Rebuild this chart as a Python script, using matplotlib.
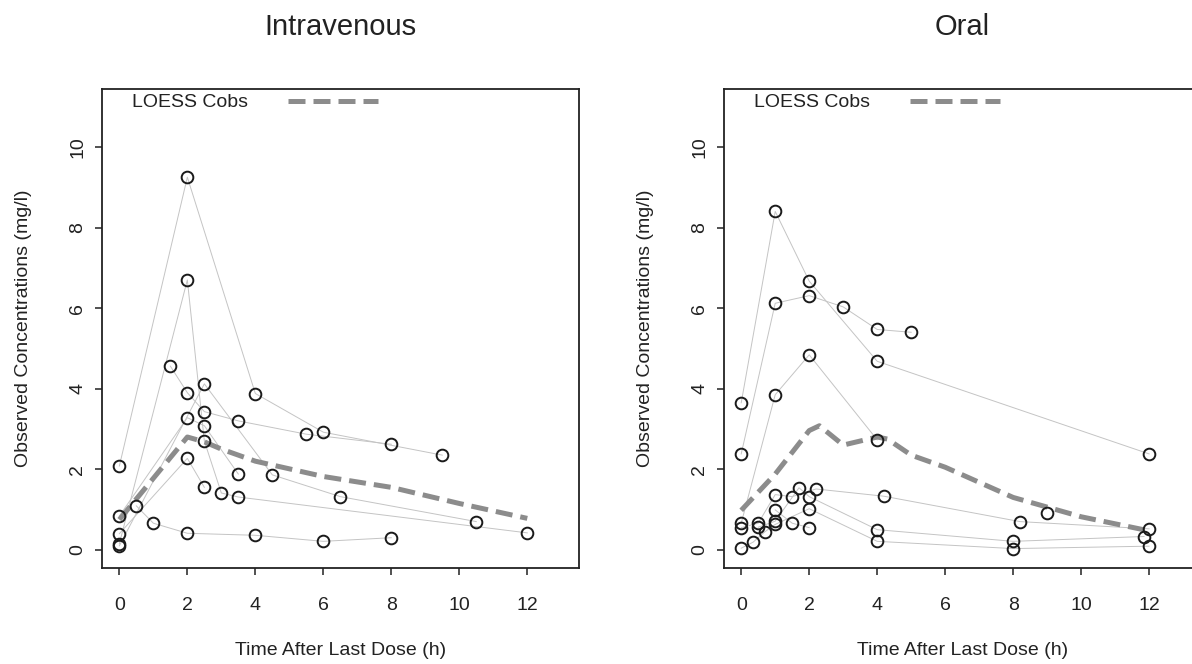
import matplotlib
matplotlib.use('Agg')
import matplotlib.pyplot as plt
from matplotlib.lines import Line2D

plt.rcParams['font.family'] = ['Liberation Sans', 'DejaVu Sans']

# intravenous subjects (time h, conc mg/l)
iv_s1_t = [0, 2, 4, 6, 9.5]
iv_s1_c = [2.08, 9.25, 3.88, 2.92, 2.35]
iv_s2_t = [0, 2, 2.5, 3, 3.5, 12]
iv_s2_c = [0.15, 6.7, 2.7, 1.41, 1.31, 0.42]
iv_s3_t = [1.5, 2, 2.5, 3.5, 5.5, 8]
iv_s3_c = [4.56, 3.9, 3.43, 3.2, 2.87, 2.62]
iv_s4_t = [0, 2.5, 4.5, 6.5, 10.5]
iv_s4_c = [0.1, 4.12, 1.86, 1.32, 0.7]
iv_s5_t = [0, 2, 2.5, 3.5]
iv_s5_c = [0.84, 3.28, 3.08, 1.88]
iv_s6_t = [0, 2, 2.5]
iv_s6_c = [0.4, 2.27, 1.55]
iv_s7_t = [0.5, 1, 2, 4, 6, 8]
iv_s7_c = [1.09, 0.66, 0.41, 0.36, 0.21, 0.3]

iv_loess_t = [0, 2, 2.5, 3, 4, 6, 8, 10, 12]
iv_loess_c = [0.75, 2.8, 2.68, 2.5, 2.2, 1.82, 1.55, 1.15, 0.78]

# oral subjects
or_s1_t = [0, 1, 2, 4, 12]
or_s1_c = [3.65, 8.4, 6.67, 4.68, 2.38]
or_s2_t = [0, 1, 2, 3, 4, 5]
or_s2_c = [2.38, 6.12, 6.31, 6.03, 5.47, 5.4]
or_s3_t = [0, 1, 2, 4]
or_s3_c = [0.66, 3.85, 4.84, 2.73]
or_s4_t = [0, 0.5, 1, 1.5, 2.2, 4.2, 8.2, 12]
or_s4_c = [0.55, 0.66, 1.37, 1.32, 1.51, 1.33, 0.7, 0.52]
or_s5_t = [0.5, 1, 1.7, 2, 4, 8, 11.85]
or_s5_c = [0.56, 0.71, 1.54, 1.32, 0.5, 0.21, 0.33]
or_s6_t = [0, 0.35, 0.7, 1, 2, 4, 8, 12]
or_s6_c = [0.04, 0.19, 0.45, 0.63, 1.02, 0.21, 0.03, 0.09]
or_s7_t = [1, 1.5, 2]
or_s7_c = [0.99, 0.66, 0.55]
or_s8_t = [9]
or_s8_c = [0.92]

or_loess_t = [0, 0.5, 1, 2, 2.3, 3, 4, 4.3, 5, 6, 8, 10, 12]
or_loess_c = [0.98, 1.43, 1.88, 2.96, 3.08, 2.6, 2.8, 2.75, 2.35, 2.05, 1.3, 0.82, 0.47]

x_ticks = [0, 2, 4, 6, 8, 10, 12]
y_ticks = [0, 2, 4, 6, 8, 10]

txt = '#222222'
fs = 14

fig = plt.figure(figsize=(11.92, 6.64), dpi=100)
ax1 = fig.add_axes([0.0853, 0.1453, 0.4004, 0.7207])
ax2 = fig.add_axes([0.607, 0.1453, 0.4004, 0.7207])


def panel(ax, subjects, lt, lc, title):
    for t, c in subjects:
        ax.plot(t, c, color='#c4c4c4', lw=0.7, zorder=1)
        ax.plot(t, c, 'o', mfc='none', mec='#1a1a1a', ms=8.4, mew=1.4,
                zorder=3, clip_on=False)
    ax.plot(lt, lc, color='#8c8c8c', lw=3.6, dashes=(3.4, 1.6), zorder=2)

    ax.set_xlim(-0.52, 13.52)
    ax.set_ylim(-0.44, 11.44)
    ax.set_xticks(x_ticks)
    ax.set_yticks(y_ticks)
    ax.tick_params(direction='out', length=5, width=1.1, colors='#222222',
                   labelsize=fs, labelcolor=txt)
    ax.tick_params(axis='x', pad=16)
    ax.tick_params(axis='y', pad=6)
    for lab in ax.get_yticklabels():
        lab.set_rotation(90)
        lab.set_va('center')
    for s in ax.spines.values():
        s.set_linewidth(1.3)
        s.set_color('#222222')

    ax.set_xlabel('Time After Last Dose (h)', fontsize=fs, color=txt, va='center')
    ax.xaxis.set_label_coords(0.5, -0.1724)
    ax.set_ylabel('Observed Concentrations (mg/l)', fontsize=fs, color=txt, va='center')
    ax.yaxis.set_label_coords(-0.1634, 0.5)
    ax.text(0.5, 1.13, title, transform=ax.transAxes, ha='center', va='center',
            fontsize=21, color=txt)

    h = Line2D([], [], color='#8c8c8c', lw=3.6, dashes=(3.4, 1.6))
    ax.legend([h], ['LOESS Cobs'], loc='upper left', bbox_to_anchor=(0.063, 0.99),
              frameon=False, markerfirst=False, handlelength=4.63,
              handletextpad=2.06, borderpad=0, borderaxespad=0,
              prop={'size': fs}, labelcolor=txt)


panel(ax1, [(iv_s1_t, iv_s1_c), (iv_s2_t, iv_s2_c), (iv_s3_t, iv_s3_c),
            (iv_s4_t, iv_s4_c), (iv_s5_t, iv_s5_c), (iv_s6_t, iv_s6_c),
            (iv_s7_t, iv_s7_c)],
      iv_loess_t, iv_loess_c, 'Intravenous')
panel(ax2, [(or_s1_t, or_s1_c), (or_s2_t, or_s2_c), (or_s3_t, or_s3_c),
            (or_s4_t, or_s4_c), (or_s5_t, or_s5_c), (or_s6_t, or_s6_c),
            (or_s7_t, or_s7_c), (or_s8_t, or_s8_c)],
      or_loess_t, or_loess_c, 'Oral')

fig.savefig('out.png', dpi=100, facecolor='white')
